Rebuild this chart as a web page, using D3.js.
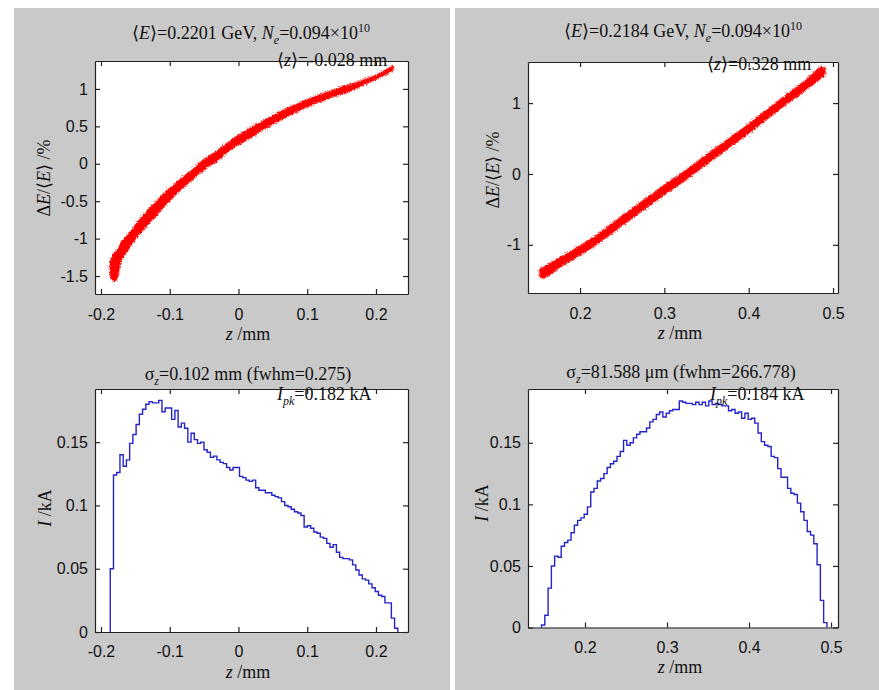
<!DOCTYPE html>
<html>
<head>
<meta charset="utf-8">
<script src="https://cdn.jsdelivr.net/npm/d3@7"></script>
<style>
body{margin:0;background:#fff;}
svg{display:block;}
.ann{font-family:"Liberation Serif","Times New Roman",serif;font-size:18px;fill:#111;}
</style>
</head>
<body>
<script>
// energy spread band, left bunch (z in mm, dE/<E> in %)
const tlZ     = [-0.187,-0.185,-0.180,-0.176,-0.171,-0.160,-0.1515,-0.137,-0.122,-0.108,-0.093,-0.079,-0.064,-0.050,-0.035,-0.020,-0.006,0.010,0.023,0.045,0.065,0.100,0.138,0.165,0.1865,0.205,0.220,0.226];
const tlUpper = [-1.33,-1.26,-1.18,-1.15,-1.05,-0.94,-0.83,-0.67,-0.52,-0.39,-0.27,-0.16,-0.05,0.06,0.15,0.25,0.35,0.44,0.51,0.62,0.72,0.86,0.99,1.07,1.14,1.21,1.29,1.31];
const tlLower = [-1.49,-1.54,-1.57,-1.53,-1.31,-1.15,-1.03,-0.87,-0.72,-0.57,-0.43,-0.31,-0.19,-0.08,0.01,0.12,0.22,0.30,0.38,0.50,0.60,0.76,0.89,0.98,1.07,1.15,1.22,1.26];

// energy spread band, right bunch
const trZ     = [0.152,0.157,0.180,0.212,0.250,0.290,0.327,0.360,0.400,0.439,0.465,0.486,0.491];
const trUpper = [-1.34,-1.31,-1.15,-0.92,-0.59,-0.24,0.07,0.36,0.71,1.07,1.30,1.51,1.49];
const trLower = [-1.45,-1.47,-1.29,-1.06,-0.73,-0.38,-0.07,0.22,0.57,0.93,1.16,1.35,1.41];

// current histograms (kA), bins start at *Start with width *Width
const blStart = -0.1865, blWidth = 0.0047;
const blCurrent = [0.050,0.124,0.126,0.140,0.131,0.136,0.149,0.156,0.164,0.172,
  0.176,0.180,0.182,0.181,0.181,0.183,0.174,0.177,0.177,0.168,
  0.175,0.162,0.165,0.161,0.150,0.157,0.152,0.149,0.150,0.144,
  0.142,0.138,0.139,0.136,0.134,0.133,0.130,0.128,0.130,0.130,
  0.123,0.122,0.120,0.119,0.120,0.114,0.112,0.112,0.110,0.110,
  0.108,0.107,0.106,0.103,0.100,0.099,0.097,0.095,0.094,0.092,
  0.083,0.084,0.082,0.079,0.078,0.075,0.074,0.070,0.067,0.069,
  0.063,0.059,0.058,0.058,0.057,0.053,0.049,0.045,0.042,0.041,
  0.038,0.035,0.032,0.029,0.028,0.023,0.023,0.011,0.003];

const brStart = 0.147, brWidth = 0.004;
const brCurrent = [0.002,0.010,0.032,0.050,0.058,0.057,0.066,0.069,0.071,0.077,
  0.083,0.087,0.089,0.092,0.098,0.110,0.113,0.119,0.121,0.125,
  0.130,0.133,0.135,0.139,0.143,0.152,0.148,0.150,0.154,0.157,
  0.159,0.159,0.162,0.167,0.169,0.173,0.175,0.171,0.174,0.176,
  0.177,0.177,0.184,0.183,0.182,0.182,0.181,0.183,0.181,0.183,
  0.180,0.184,0.181,0.182,0.181,0.180,0.180,0.176,0.177,0.174,
  0.175,0.170,0.174,0.169,0.170,0.166,0.158,0.151,0.148,0.147,
  0.139,0.138,0.129,0.122,0.122,0.113,0.109,0.108,0.101,0.094,
  0.087,0.078,0.075,0.068,0.051,0.022,0.004];

// ticks
const xTicksLeft  = [-0.2,-0.1,0,0.1,0.2];
const xTicksRight = [0.2,0.3,0.4,0.5];
const yTicksTL = [-1.5,-1,-0.5,0,0.5,1];
const yTicksTR = [-1,0,1];
const yTicksI  = [0,0.05,0.1,0.15];

// texts: [string, kind]  kind: "" plain, "i" italic, "sub", "sup"
const titleTL = [["⟨",""],["E","i"],["⟩=0.2201 GeV, ",""],["N","i"],["e","sub"],["=0.094×10",""],["10","sup"]];
const titleTR = [["⟨",""],["E","i"],["⟩=0.2184 GeV, ",""],["N","i"],["e","sub"],["=0.094×10",""],["10","sup"]];
const titleBL = [["σ",""],["z","sub"],["=0.102 mm (fwhm=0.275)",""]];
const titleBR = [["σ",""],["z","sub"],["=81.588 μm (fwhm=266.778)",""]];
const meanTL = [["⟨",""],["z","i"],["⟩=-0.028 mm",""]];
const meanTR = [["⟨",""],["z","i"],["⟩=0.328 mm",""]];
const peakBL = [["I","i"],["pk","sub"],["=0.182 kA",""]];
const peakBR = [["I","i"],["pk","sub"],["=0.184 kA",""]];
const xLabel = [["z","i"],[" /mm",""]];
const yLabelE = [["Δ",""],["E","i"],["/⟨",""],["E","i"],["⟩ /%",""]];
const yLabelI = [["I","i"],[" /kA",""]];

const width = 879, height = 690;
const svg = d3.select("body").append("svg").attr("width",width).attr("height",height);

const defs = svg.append("defs");
function fuzz(id, scale, freq, seed){
  const f = defs.append("filter").attr("id",id).attr("x","-10%").attr("y","-10%").attr("width","120%").attr("height","120%");
  f.append("feTurbulence").attr("type","fractalNoise").attr("baseFrequency",freq).attr("numOctaves",2).attr("seed",seed).attr("result","n");
  f.append("feDisplacementMap").attr("in","SourceGraphic").attr("in2","n").attr("scale",scale)
    .attr("xChannelSelector","R").attr("yChannelSelector","G");
}
fuzz("fuzzIn",4,0.9,3);
fuzz("fuzzOut",7,1.2,7);

svg.append("rect").attr("width",width).attr("height",height).attr("fill","#fff");
svg.append("rect").attr("x",14).attr("y",8).attr("width",436).attr("height",682).attr("fill","#c9c9c9");
svg.append("rect").attr("x",455).attr("y",8).attr("width",424).attr("height",682).attr("fill","#c9c9c9");

const frames = {
  tl:{x:[95,408], y:[294,61],  xd:[-0.2087,0.2466], yd:[-1.74,1.373], pad:15},
  tr:{x:[528,838], y:[293,62], xd:[0.1383,0.5059],  yd:[-1.68,1.58],  pad:15},
  bl:{x:[95,408], y:[632,389], xd:[-0.2087,0.2466], yd:[0,0.192],     pad:14},
  br:{x:[528,838], y:[627.5,389], xd:[0.1305,0.5085], yd:[0,0.1937],  pad:14}
};

function makePlot(key){
  const f = frames[key];
  const x = d3.scaleLinear().domain(f.xd).range(f.x);
  const y = d3.scaleLinear().domain(f.yd).range(f.y);
  const g = svg.append("g");
  g.append("rect").attr("x",f.x[0]).attr("y",f.y[1])
    .attr("width",f.x[1]-f.x[0]).attr("height",f.y[0]-f.y[1]).attr("fill","#fff");
  return {x,y,g,f};
}

function drawAxes(p, xt, yt){
  const {x,y,g,f} = p;
  const fmt = d => String(+d.toFixed(3));
  const style = sel => {
    sel.attr("color","#222");
    sel.selectAll("path,line").attr("stroke-width",1.2);
    sel.selectAll("text").style("font-family","'Liberation Sans',Arial,sans-serif").style("font-size","16px").attr("fill","#111");
  };
  g.append("g").attr("transform",`translate(0,${f.y[0]})`)
    .call(d3.axisBottom(x).tickValues(xt).tickSize(-5).tickSizeOuter(0).tickPadding(f.pad).tickFormat(fmt)).call(style);
  g.append("g").attr("transform",`translate(0,${f.y[1]})`)
    .call(d3.axisTop(x).tickValues(xt).tickSize(-5).tickSizeOuter(0).tickFormat("")).call(style);
  g.append("g").attr("transform",`translate(${f.x[0]},0)`)
    .call(d3.axisLeft(y).tickValues(yt).tickSize(-5).tickSizeOuter(0).tickPadding(7).tickFormat(fmt)).call(style);
  g.append("g").attr("transform",`translate(${f.x[1]},0)`)
    .call(d3.axisRight(y).tickValues(yt).tickSize(-5).tickSizeOuter(0).tickFormat("")).call(style);
}

function rich(x, y, parts, anchor, rotate){
  const t = svg.append("text").attr("class","ann").attr("text-anchor",anchor||"middle");
  if (rotate) t.attr("transform",`translate(${x},${y}) rotate(-90)`);
  else t.attr("x",x).attr("y",y);
  let shift = 0;
  parts.forEach(([s,k]) => {
    const sp = t.append("tspan").text(s);
    const target = k==="sub" ? 5 : k==="sup" ? -7 : 0;
    if (target !== shift){ sp.attr("dy",target-shift); shift = target; }
    if (k==="sub" || k==="sup") sp.attr("font-size","12px");
    if (k==="i" || k==="sub") sp.attr("font-style","italic");
  });
}

function band(p, zs, up, lo){
  const data = zs.map((z,i)=>({z, u:up[i], l:lo[i]}));
  const area = d3.area().x(d=>p.x(d.z)).y0(d=>p.y(d.l)).y1(d=>p.y(d.u)).curve(d3.curveCatmullRom.alpha(0.5));
  p.g.append("path").attr("d",area(data)).attr("fill","#ff1a1a").attr("stroke","#ff3030")
    .attr("stroke-width",1.2).attr("opacity",0.5).attr("filter","url(#fuzzOut)");
  p.g.append("path").attr("d",area(data)).attr("fill","#ff0000")
    .attr("filter","url(#fuzzIn)");
}

function hist(p, start, w, vals){
  const pts = [{z:start, v:0}];
  vals.forEach((v,i)=>pts.push({z:start+i*w, v}));
  pts.push({z:start+vals.length*w, v:vals[vals.length-1]});
  pts.push({z:start+vals.length*w, v:0});
  const line = d3.line().x(d=>p.x(d.z)).y(d=>p.y(d.v)).curve(d3.curveStepAfter);
  p.g.append("path").attr("d",line(pts)).attr("fill","none").attr("stroke","#2424c8").attr("stroke-width",1.4);
}

const tl = makePlot("tl"), tr = makePlot("tr"), bl = makePlot("bl"), br = makePlot("br");
band(tl, tlZ, tlUpper, tlLower);
band(tr, trZ, trUpper, trLower);
hist(bl, blStart, blWidth, blCurrent);
hist(br, brStart, brWidth, brCurrent);
drawAxes(tl, xTicksLeft, yTicksTL);
drawAxes(tr, xTicksRight, yTicksTR);
drawAxes(bl, xTicksLeft, yTicksI);
drawAxes(br, xTicksRight, yTicksI);

rich(251, 39, titleTL);
rich(683, 37, titleTR);
rich(248, 380, titleBL);
rich(681, 378, titleBR);
rich(277, 66, meanTL, "start");
rich(707, 70, meanTR, "start");
rich(277, 400, peakBL, "start");
rich(710, 400, peakBR, "start");
rich(248, 340, xLabel);
rich(680, 339, xLabel);
rich(248, 678, xLabel);
rich(680, 673, xLabel);
rich(50, 178, yLabelE, "middle", true);
rich(499, 170, yLabelE, "middle", true);
rich(51, 508, yLabelI, "middle", true);
rich(488, 503, yLabelI, "middle", true);
</script>
</body>
</html>
